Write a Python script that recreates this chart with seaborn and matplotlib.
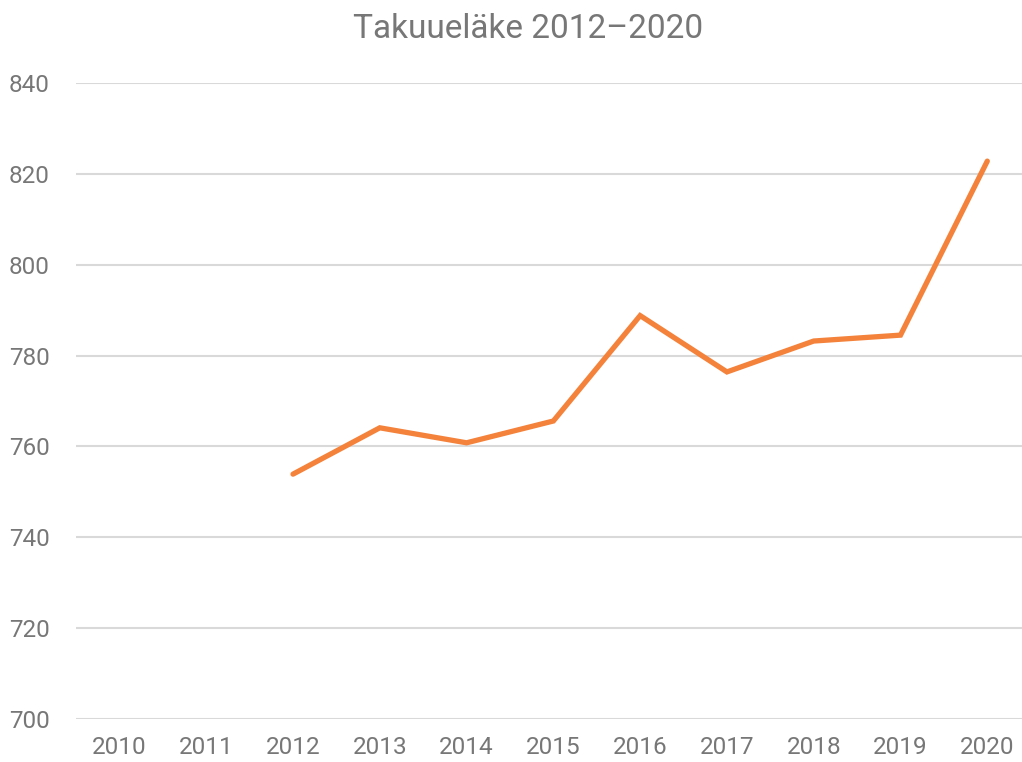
import pandas as pd
import matplotlib
matplotlib.use("Agg")
import matplotlib.pyplot as plt
import seaborn as sns

years = [2010, 2011, 2012, 2013, 2014, 2015, 2016, 2017, 2018, 2019, 2020]
pension = [None, None, 753.9, 764.1, 760.8, 765.6, 788.8, 776.4, 783.2, 784.5, 822.8]
y_ticks = [700, 720, 740, 760, 780, 800, 820, 840]

data = pd.DataFrame({"Vuosi": years, "Takuueläke": pension}).dropna()

sns.set_style("white")
plt.rcParams["font.family"] = ["Roboto", "DejaVu Sans"]

grey = "#777777"

fig = plt.figure(figsize=(10.22, 7.62), dpi=100)
ax = fig.add_axes([0.0744, 0.0564, 0.9256, 0.8347])

sns.lineplot(data=data, x="Vuosi", y="Takuueläke", color="#F4823B",
             linewidth=3.8, ax=ax, solid_capstyle="round", solid_joinstyle="miter")

ax.set_xlim(2009.5, 2020.4)
ax.set_ylim(700, 840)
ax.set_xticks(years)
ax.set_xticklabels([str(y) for y in years])
ax.set_yticks(y_ticks)
ax.yaxis.grid(True, color="#d9d9d9", linewidth=1.5)
ax.set_axisbelow(True)
for s in ax.spines.values():
    s.set_visible(False)
ax.tick_params(axis="both", length=0, labelsize=17.5, labelcolor=grey)
ax.tick_params(axis="x", pad=12)
ax.tick_params(axis="y", pad=19)
ax.set_xlabel("")
ax.set_ylabel("")

fig.suptitle("Takuueläke 2012–2020", x=0.517, y=0.983, fontsize=24, color=grey)

fig.savefig("out.png", dpi=100)
